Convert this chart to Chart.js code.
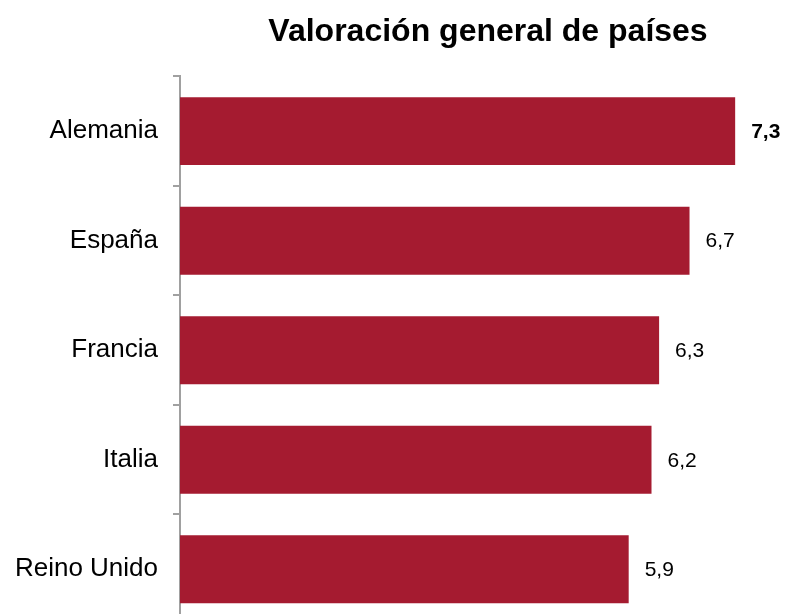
<!DOCTYPE html>
<html>
<head>
<meta charset="utf-8">
<script src="https://cdn.jsdelivr.net/npm/chart.js@4"></script>
<style>
html,body{margin:0;padding:0;background:#fff;overflow:hidden;}
#wrap{width:796px;height:624px;}
</style>
</head>
<body>
<div id="wrap"><canvas id="c" width="796" height="624" style="width:796px;height:624px;"></canvas></div>
<script>
const categories = ["Alemania", "España", "Francia", "Italia", "Reino Unido"];
const values = [7.3, 6.7, 6.3, 6.2, 5.9];
const valueLabels = ["7,3", "6,7", "6,3", "6,2", "5,9"];
const boldLabel = [true, false, false, false, false];
const titleText = "Valoración general de países";

const FONT = "'Liberation Sans', Arial, sans-serif";

const valueLabelPlugin = {
  id: 'valueLabels',
  afterDatasetsDraw(chart) {
    const ctx = chart.ctx;
    const meta = chart.getDatasetMeta(0);
    ctx.save();
    ctx.fillStyle = '#000';
    ctx.textAlign = 'left';
    ctx.textBaseline = 'middle';
    meta.data.forEach((bar, i) => {
      ctx.font = (boldLabel[i] ? 'bold ' : '') + '21px ' + FONT;
      ctx.fillText(valueLabels[i], bar.x + 16, bar.y + 1);
    });
    ctx.restore();
  }
};

new Chart(document.getElementById('c'), {
  type: 'bar',
  data: {
    labels: categories,
    datasets: [{
      data: values,
      backgroundColor: '#A51B30',
      borderWidth: 0,
      barPercentage: 0.62,
      categoryPercentage: 1.0
    }]
  },
  options: {
    indexAxis: 'y',
    responsive: false,
    maintainAspectRatio: false,
    animation: false,
    layout: { padding: { top: 0, right: 0, bottom: 0, left: 0 } },
    plugins: {
      legend: { display: false },
      tooltip: { enabled: false },
      title: {
        display: true,
        text: titleText,
        fullSize: false,
        color: '#000',
        font: { family: FONT, size: 32, weight: 'bold', lineHeight: 1.2 },
        padding: { top: 13, bottom: 25 }
      }
    },
    scales: {
      x: {
        display: false,
        min: 0,
        max: 8.1
      },
      y: {
        afterFit(scale) {
          scale.width = 180;
          scale.paddingTop = 0;
          scale.paddingBottom = 0;
        },
        border: { display: true, color: '#A0A0A0', width: 2 },
        grid: {
          display: true,
          drawOnChartArea: false,
          drawTicks: true,
          tickLength: 7,
          color: '#A0A0A0',
          lineWidth: 2,
          offset: true
        },
        ticks: {
          color: '#000',
          padding: 15,
          font: { family: FONT, size: 26 }
        }
      }
    }
  },
  plugins: [valueLabelPlugin]
});
</script>
</body>
</html>
